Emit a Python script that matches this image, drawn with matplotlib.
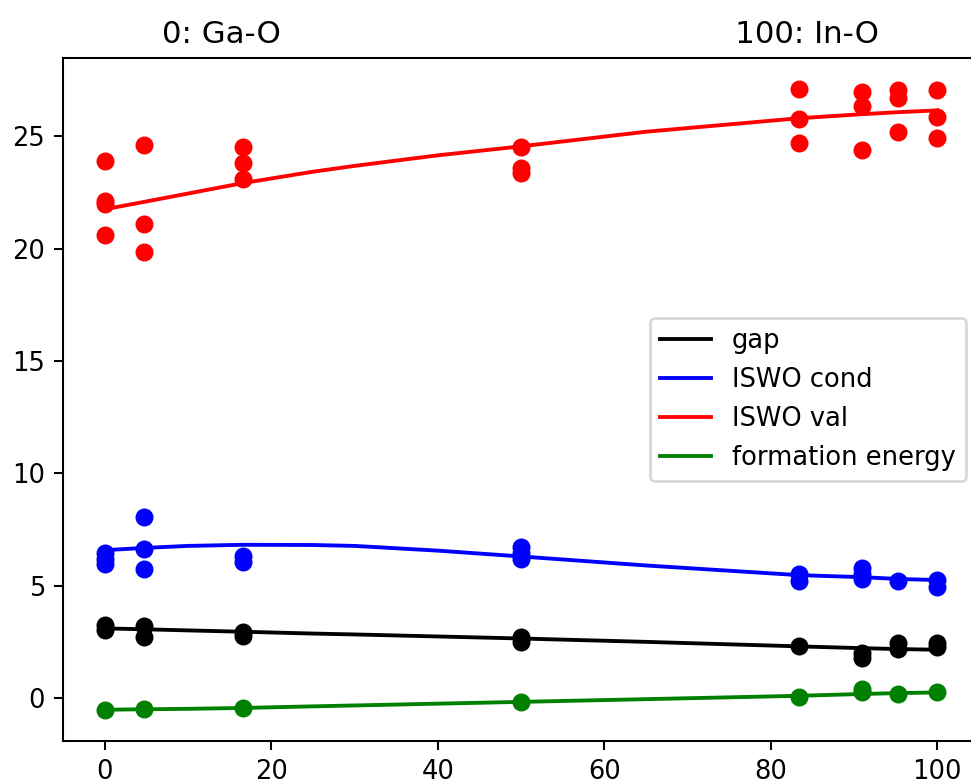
import matplotlib
matplotlib.use('Agg')
import matplotlib.pyplot as plt

# composition (% In) for each scatter point
x_val = [0, 0, 0, 0, 4.76, 4.76, 4.76, 16.67, 16.67, 16.67, 50, 50, 50,
         83.33, 83.33, 83.33, 90.91, 90.91, 90.91, 95.24, 95.24, 95.24, 100, 100, 100]
y_val = [23.9, 22.1, 22.0, 20.6, 24.6, 21.1, 19.85, 24.5, 23.8, 23.1, 24.5, 23.6, 23.35,
         27.1, 25.75, 24.7, 26.95, 26.35, 24.4, 27.05, 26.7, 25.2, 27.05, 25.85, 24.9]

x_cond = [0, 0, 0, 4.76, 4.76, 4.76, 16.67, 16.67, 50, 50, 50,
          83.33, 83.33, 90.91, 90.91, 90.91, 95.24, 100, 100]
y_cond = [6.45, 6.2, 5.95, 8.05, 6.65, 5.75, 6.3, 6.05, 6.7, 6.45, 6.2,
          5.5, 5.2, 5.8, 5.5, 5.3, 5.2, 5.25, 4.95]

x_gap = [0, 0, 4.76, 4.76, 16.67, 16.67, 50, 50, 83.33, 90.91, 90.91, 95.24, 95.24, 100, 100]
y_gap = [3.25, 3.05, 3.2, 2.7, 2.95, 2.75, 2.7, 2.5, 2.3, 2.0, 1.8, 2.45, 2.2, 2.45, 2.25]

x_form = [0, 4.76, 16.67, 50, 83.33, 90.91, 90.91, 95.24, 100]
y_form = [-0.53, -0.5, -0.45, -0.18, 0.05, 0.42, 0.25, 0.2, 0.25]

# fitted curves
x_fit = [0, 4.76, 10, 16.67, 25, 30, 40, 50, 65, 83.33, 90.91, 95.24, 100]
fit_gap = [3.1, 3.06, 3.01, 2.95, 2.87, 2.83, 2.74, 2.65, 2.5, 2.3, 2.22, 2.18, 2.15]
fit_cond = [6.58, 6.68, 6.77, 6.82, 6.81, 6.77, 6.56, 6.3, 5.9, 5.47, 5.38, 5.3, 5.25]
fit_val = [21.75, 22.08, 22.45, 22.92, 23.42, 23.68, 24.15, 24.55, 25.2, 25.8, 25.98, 26.07, 26.15]
fit_form = [-0.52, -0.5, -0.48, -0.44, -0.37, -0.33, -0.25, -0.17, -0.05, 0.1, 0.18, 0.22, 0.25]

dpi = 185
fig = plt.figure(figsize=(972 / dpi, 783 / dpi), dpi=dpi)
ax = fig.add_axes([63 / 972, 42 / 783, 916 / 972, 683 / 783])

ax.scatter(x_gap, y_gap, color='k')
ax.scatter(x_cond, y_cond, color='b')
ax.scatter(x_val, y_val, color='r')
ax.scatter(x_form, y_form, color='g')

ax.plot(x_fit, fit_gap, 'k', label='gap')
ax.plot(x_fit, fit_cond, 'b', label='ISWO cond')
ax.plot(x_fit, fit_val, 'r', label='ISWO val')
ax.plot(x_fit, fit_form, 'g', label='formation energy')

ax.set_title('0: Ga-O' + ' ' * 46 + '100: In-O')
ax.legend(loc='center right')

fig.savefig('out.png', dpi=dpi)
